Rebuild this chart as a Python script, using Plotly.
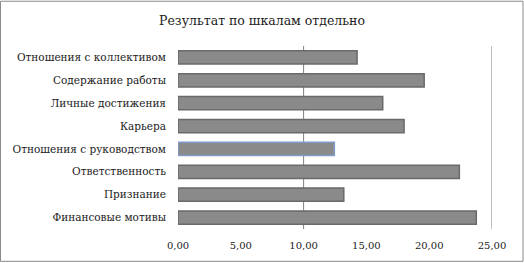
import plotly.graph_objects as go

categories = ["Финансовые мотивы", "Признание", "Ответственность", "Отношения с руководством",
              "Карьера", "Личные достижения", "Содержание работы", "Отношения с коллективом"]
values = [23.75, 13.2, 22.4, 12.45, 18.0, 16.3, 19.6, 14.26]
tick_vals = [0, 5, 10, 15, 20, 25]
tick_text = ["0,00", "5,00", "10,00", "15,00", "20,00", "25,00"]
title_text = "Результат по шкалам отдельно"

line_colors = ["#6a6a6a"] * len(categories)
line_colors[3] = "#7f9ccc"

W, H = 524, 263
ml, mr, mt, mb = 178, 32, 45.5, 33.5
pw, ph = W - ml - mr, H - mt - mb

SERIF = "DejaVu Serif"

fig = go.Figure()
fig.add_trace(go.Bar(
    y=categories, x=values, orientation="h",
    marker=dict(color="#8a8a8a", line=dict(color=line_colors, width=1.5)),
    width=0.58,
))

def px_x(px):
    return (px - ml) / pw

def px_y(py):
    return (H - mb - py) / ph

shapes = [
    dict(type="rect", xref="paper", yref="paper",
         x0=px_x(0.5), x1=px_x(523), y0=px_y(262), y1=px_y(0.5),
         line=dict(color="#8a8a8a", width=1), fillcolor="rgba(0,0,0,0)", layer="below"),
]
for v in [10, 25]:
    shapes.append(dict(type="line", xref="x", yref="paper", x0=v, x1=v, y0=0, y1=1,
                       line=dict(color="#808080", width=1), layer="below"))

fig.update_layout(
    width=W, height=H,
    margin=dict(l=ml, r=mr, t=mt, b=mb, autoexpand=False),
    paper_bgcolor="white", plot_bgcolor="white",
    showlegend=False,
    font=dict(family=SERIF, size=10.5, color="#222222"),
    title=dict(text=title_text, x=0.5, xanchor="center", xref="container",
               y=1 - 21 / H, yanchor="middle", yref="container",
               font=dict(family=SERIF, size=12.5, color="#222222")),
    xaxis=dict(range=[0, 25], tickvals=tick_vals, ticktext=tick_text, showgrid=False,
               zeroline=False, showline=False, ticks="", ticklabelstandoff=9,
               automargin=False, tickfont=dict(family=SERIF, size=10)),
    yaxis=dict(showgrid=False, zeroline=False, showline=False, ticks="",
               ticklabelstandoff=11, automargin=False,
               tickfont=dict(family=SERIF, size=10.5)),
    shapes=shapes,
    bargap=0.42,
)
fig.write_html("out.html")
